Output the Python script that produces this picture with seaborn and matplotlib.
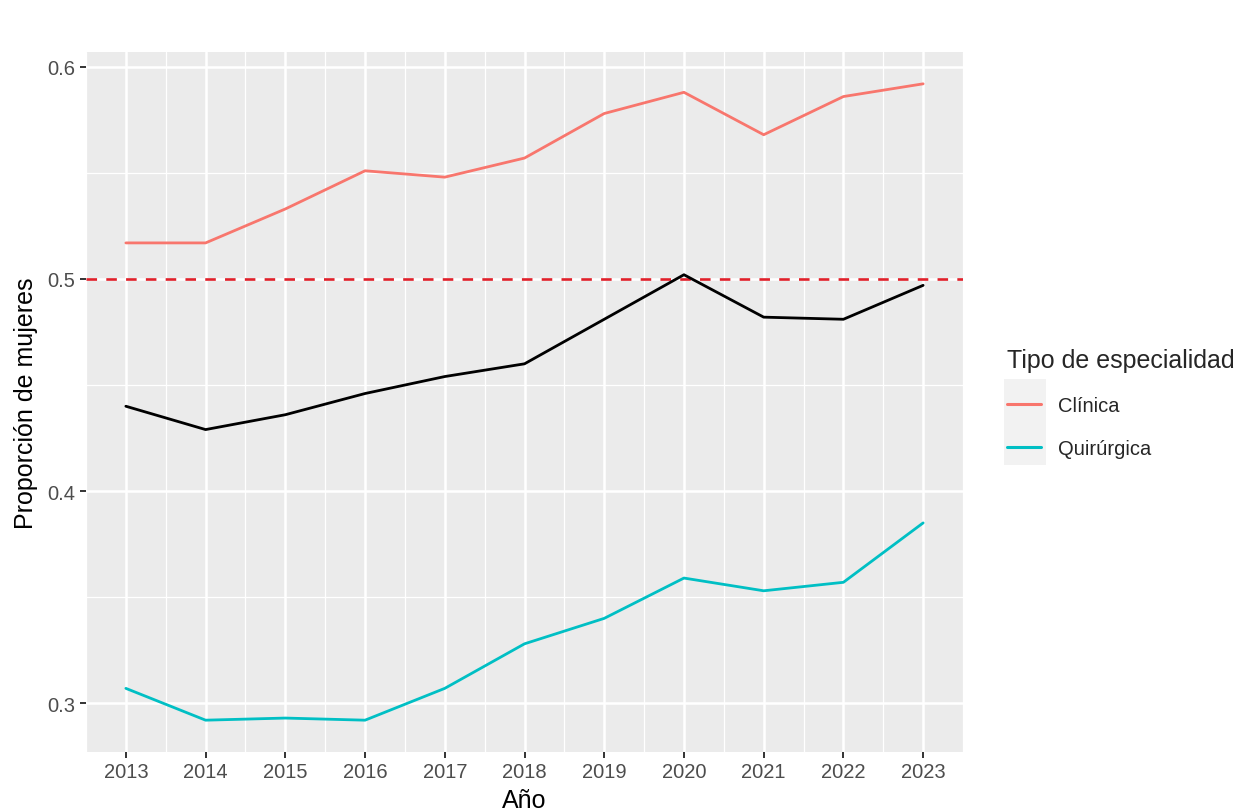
import pandas as pd
import seaborn as sns
import matplotlib.pyplot as plt
from matplotlib.patches import Rectangle
from matplotlib.ticker import MultipleLocator

anios = [2013, 2014, 2015, 2016, 2017, 2018, 2019, 2020, 2021, 2022, 2023]
clinica = [0.517, 0.517, 0.533, 0.551, 0.548, 0.557, 0.578, 0.588, 0.568, 0.586, 0.592]
quirurgica = [0.307, 0.292, 0.293, 0.292, 0.307, 0.328, 0.340, 0.359, 0.353, 0.357, 0.385]
total = [0.440, 0.429, 0.436, 0.446, 0.454, 0.460, 0.481, 0.502, 0.482, 0.481, 0.497]
tipos = ['Clínica', 'Quirúrgica']
colores = ['#F8766D', '#00BFC4']
y_ticks = [0.3, 0.4, 0.5, 0.6]

df = pd.DataFrame({
    'Año': anios * 2,
    'Proporción': clinica + quirurgica,
    'Tipo': [tipos[0]] * len(anios) + [tipos[1]] * len(anios),
})

sns.set_theme(style='darkgrid')
plt.rcParams['font.family'] = ['Liberation Sans', 'DejaVu Sans']

W, H = 1257, 812
fig = plt.figure(figsize=(W / 100, H / 100), dpi=100)
ax = fig.add_axes([86 / W, 1 - 753 / H, (963 - 86) / W, 700 / H])
ax.set_facecolor('#EBEBEB')

ax.axhline(0.5, color='#E0202A', lw=1.9, ls=(0, (4, 3.5)), zorder=2)
sns.lineplot(data=df, x='Año', y='Proporción', hue='Tipo', hue_order=tipos,
             palette=colores, lw=2.0, ax=ax, zorder=3)
sns.lineplot(x=anios, y=total, color='black', lw=2.0, ax=ax, legend=False, zorder=4)

# ggplot style expansion
todos = clinica + quirurgica + total
rng = max(todos) - min(todos)
ax.set_ylim(min(todos) - 0.05 * rng, max(todos) + 0.05 * rng)
ax.set_xlim(anios[0] - 0.5, anios[-1] + 0.5)

ax.set_xticks(anios)
ax.set_xticklabels([str(a) for a in anios])
ax.set_yticks(y_ticks)
ax.set_yticklabels([str(v) for v in y_ticks])
ax.xaxis.set_minor_locator(MultipleLocator(0.5))
ax.yaxis.set_minor_locator(MultipleLocator(0.05))

ax.grid(which='major', color='white', lw=1.8)
ax.grid(which='minor', color='white', lw=0.9)
ax.set_axisbelow(True)
for s in ax.spines.values():
    s.set_visible(False)

ax.tick_params(which='major', bottom=True, left=True, length=4.3, width=1.4,
               color='#333333', labelsize=14.5, labelcolor='#4D4D4D', pad=3.2)
ax.tick_params(which='minor', length=0)

ax.set_xlabel('Año', fontsize=18, color='black', labelpad=5)
ax.set_ylabel('Proporción de mujeres', fontsize=18, color='black', labelpad=7)

handles, labels = ax.get_legend_handles_labels()
leg = ax.legend(handles, labels, title='Tipo de especialidad', loc='upper left',
                bbox_to_anchor=(1007 / W, 1 - 349 / H), bbox_transform=fig.transFigure,
                frameon=False, fontsize=14.5, title_fontsize=18, handlelength=1.7,
                handletextpad=0.85, labelspacing=1.2, borderpad=0, borderaxespad=0,
                alignment='left')
for h in leg.get_lines():
    h.set_linewidth(2.2)

fig.add_artist(Rectangle((1004 / W, 1 - 466 / H), 42 / W, 86 / H,
                         transform=fig.transFigure, facecolor='#F2F2F2',
                         edgecolor='none', zorder=-1))

fig.savefig('out.png', dpi=100)
